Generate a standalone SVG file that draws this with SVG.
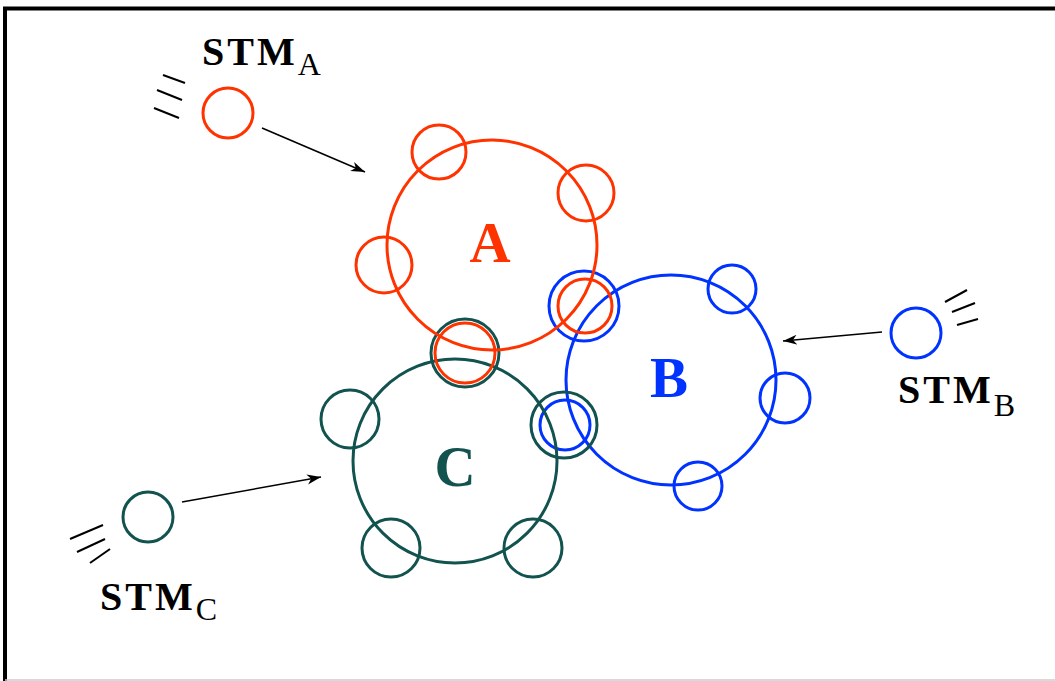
<svg xmlns="http://www.w3.org/2000/svg" width="1055" height="681" viewBox="0 0 1055 681">
<style>
.red{fill:none;stroke:#ff3300;stroke-width:3}
.blue{fill:none;stroke:#0033ff;stroke-width:3}
.teal{fill:none;stroke:#125350;stroke-width:3}
.lbl{font-family:"Liberation Serif","Times New Roman",serif;font-weight:bold;text-anchor:middle}
.stm{font-family:"Liberation Serif","Times New Roman",serif;font-weight:bold;font-size:40px;fill:#000}
.sub{font-size:32px;font-weight:normal}
.conn{stroke:#000;stroke-width:1.6;fill:none}
.speed{stroke:#000;stroke-width:2;fill:none}
</style>
<defs>
<marker id="ah" markerUnits="userSpaceOnUse" markerWidth="16" markerHeight="12" refX="14" refY="6" orient="auto">
<path d="M0,1 L14,6 L0,11 L4,6 Z" fill="#000"/>
</marker>
</defs>
<rect width="1055" height="681" fill="#fff"/>
<g id="frame">
<line x1="3" y1="8.5" x2="1055" y2="8.5" stroke="#000" stroke-width="4"/>
<line x1="5" y1="7" x2="5" y2="681" stroke="#000" stroke-width="4"/>
<line x1="5" y1="680" x2="1055" y2="680" stroke="#cccccc" stroke-width="1.5"/>
</g>
<g id="nodeB">
<circle class="blue" cx="671" cy="380" r="105"/>
<circle class="blue" cx="732" cy="289" r="24"/>
<circle class="blue" cx="785" cy="398" r="25"/>
<circle class="blue" cx="698" cy="486" r="24"/>
<circle class="blue" cx="584" cy="306" r="35"/>
<circle class="blue" cx="565" cy="425" r="25"/>
<text class="lbl" x="669" y="397" font-size="57" fill="#0033ff">B</text>
</g>
<g id="nodeC">
<circle class="teal" cx="455" cy="461" r="102"/>
<circle class="teal" cx="350" cy="419" r="29"/>
<circle class="teal" cx="391" cy="548" r="29"/>
<circle class="teal" cx="533" cy="548" r="29"/>
<circle class="teal" cx="465" cy="353" r="34"/>
<circle class="teal" cx="564" cy="425" r="33"/>
<text class="lbl" x="455" y="486" font-size="57" fill="#125350">C</text>
</g>
<g id="nodeA">
<circle class="red" cx="492" cy="245" r="105"/>
<circle class="red" cx="439" cy="152" r="27"/>
<circle class="red" cx="586" cy="193" r="28"/>
<circle class="red" cx="384" cy="265" r="28"/>
<circle class="red" cx="585" cy="306" r="27"/>
<circle class="red" cx="465" cy="353" r="30"/>
<text class="lbl" x="490" y="262" font-size="57" fill="#ff3300">A</text>
</g>
<g id="stmA">
<circle class="red" cx="228" cy="113" r="25"/>
<line class="speed" x1="163" y1="75" x2="185" y2="83"/>
<line class="speed" x1="157" y1="90" x2="182" y2="100"/>
<line class="speed" x1="154" y1="108" x2="179" y2="118"/>
<text class="stm" x="202" y="65"><tspan letter-spacing="3">STM</tspan><tspan class="sub" dy="10">A</tspan></text>
</g>
<g id="stmB">
<circle class="blue" cx="916" cy="333" r="25"/>
<line class="speed" x1="945" y1="302" x2="967" y2="290"/>
<line class="speed" x1="952" y1="312" x2="975" y2="303"/>
<line class="speed" x1="957" y1="325" x2="978" y2="319"/>
<text class="stm" x="898" y="403"><tspan letter-spacing="3">STM</tspan><tspan class="sub" dy="13">B</tspan></text>
</g>
<g id="stmC">
<circle class="teal" cx="148" cy="517" r="25"/>
<line class="speed" x1="70" y1="539" x2="103" y2="525"/>
<line class="speed" x1="77" y1="552" x2="105" y2="539"/>
<line class="speed" x1="90" y1="563" x2="110" y2="549"/>
<text class="stm" x="100" y="610"><tspan letter-spacing="3">STM</tspan><tspan class="sub" dy="10">C</tspan></text>
</g>
<g id="connectors">
<line class="conn" x1="262" y1="128" x2="365" y2="172" marker-end="url(#ah)"/>
<line class="conn" x1="882" y1="332" x2="783" y2="341" marker-end="url(#ah)"/>
<line class="conn" x1="182" y1="502" x2="321" y2="477" marker-end="url(#ah)"/>
</g>
</svg>
